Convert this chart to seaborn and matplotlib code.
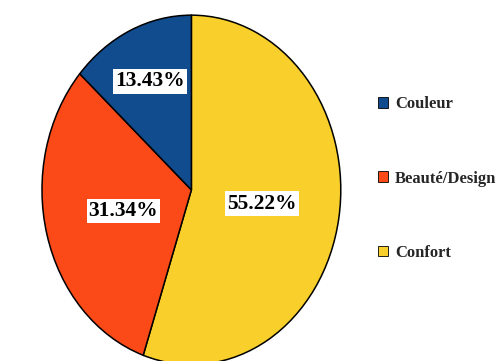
import matplotlib
matplotlib.use("Agg")
import matplotlib.pyplot as plt
import numpy as np
import seaborn as sns

# data, in drawing order (clockwise from 12 o'clock)
labels = ["Confort", "Beauté/Design", "Couleur"]
values = [55.22, 31.34, 13.43]
colors = ["#f9cf2b", "#fb4a17", "#114c8e"]
label_dist = [0.48, 0.47, 0.68]

sns.set_theme(style="white")
plt.rcParams['font.family'] = ['Liberation Serif', 'DejaVu Serif']

fig = plt.figure(figsize=(4.98, 3.61), dpi=100)
ax = fig.add_axes([0.0843, -0.01, 0.600, 0.968])
wedges, _ = ax.pie(values, colors=colors, startangle=90, counterclock=False,
                   wedgeprops=dict(edgecolor="black", linewidth=1.1))
ax.set_aspect('auto')
ax.set_xlim(-1.0, 1.0)
ax.set_ylim(-1.0, 1.0)

for w, v, d in zip(wedges, values, label_dist):
    mid = np.deg2rad((w.theta1 + w.theta2) / 2)
    ax.text(d * np.cos(mid), d * np.sin(mid), f"{v:.2f}%", ha="center", va="center",
            fontsize=15.5, fontweight="bold", color="black",
            bbox=dict(facecolor="white", edgecolor="none", pad=1.5))

# legend in reverse order
leg = fig.legend(wedges[::-1], labels[::-1], loc="upper left", bbox_to_anchor=(0.728, 0.775),
                 frameon=False, prop=dict(size=12, weight="bold"),
                 handlelength=0.6, handleheight=0.6, handletextpad=0.45, labelspacing=3.5)
for h in leg.legend_handles:
    h.set_edgecolor("black")
    h.set_linewidth(0.6)

fig.savefig("out.png", dpi=100)
